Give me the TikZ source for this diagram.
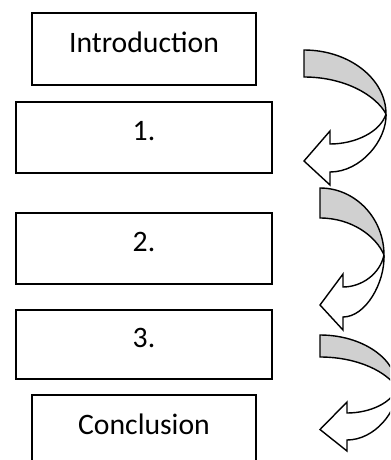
\documentclass[tikz,border=0pt]{standalone}
\usepackage{fontspec}
\setmainfont{Carlito}
\usetikzlibrary{positioning,calc}

\definecolor{bandgray}{HTML}{D0D0D0}

% curved arrow: left, top, band width, right, turn y, head base x, shaft top, shaft bottom, barb
\newcommand{\bentarrow}[9]{%
  \filldraw[band] (#1,#2) .. controls ({#1+0.55*(#4-#1)},#2) and (#4,{#2+0.45*(#5-#2)}) .. (#4,#5)
    .. controls ({#4-0.12*(#4-#1)},{#5-0.5*(#5-#2-#3)}) and ({#1+0.5*(#4-#1)},{#2+#3}) .. (#1,{#2+#3}) -- cycle;
  \filldraw[shaft] (#4,#5) .. controls ({#4-0.1*(#4-#6)},{#5+0.6*(#7-#5)}) and ({#6+0.45*(#4-#6)},#7) .. (#6,#7)
    -- (#6,{#7-#9}) -- (#1,{(#7+#8)/2+3}) -- (#6,{#8+#9}) -- (#6,#8)
    .. controls ({#6+0.55*(#4-#6)},#8) and ({#4+1},{#5+0.45*(#8-#5)}) .. (#4,#5);
}

\tikzset{
  stepbox/.style={draw, line width=1.1pt, rectangle, inner sep=0pt,
    text height=0.4cm, text depth=0.27cm, font=\fontsize{16.9}{19}\selectfont},
  band/.style={draw=black, fill=bandgray, line width=0.8pt, line join=miter},
  shaft/.style={draw=black, fill=white, line width=0.8pt, line join=miter}
}

\begin{document}
\begin{tikzpicture}[x=0.02cm, y=-0.02cm]
    \path[use as bounding box, clip] (0,0) rectangle (390,460);

    % Boxes
    \node[stepbox, minimum width=4.48cm, minimum height=1.44cm] (intro) at (144,49) {Introduction};
    \node[stepbox, minimum width=5.12cm, minimum height=1.42cm] (one) at (144,137.5) {1.};
    \node[stepbox, minimum width=5.12cm, minimum height=1.42cm] (two) at (144,248.5) {2.};
    \node[stepbox, minimum width=5.12cm, minimum height=1.38cm] (three) at (144,344.5) {3.};
    \node[stepbox, minimum width=4.48cm, minimum height=1.44cm] (concl) at (144,431) {Conclusion};

    % Curved arrows
    \bentarrow{304}{50}{27}{386}{114}{330}{144}{172}{13}
    \bentarrow{320}{188}{30}{384}{255}{343}{287}{317}{13}
    \bentarrow{320}{335}{22}{397}{388}{347}{413}{440}{11}

\end{tikzpicture}
\end{document}
